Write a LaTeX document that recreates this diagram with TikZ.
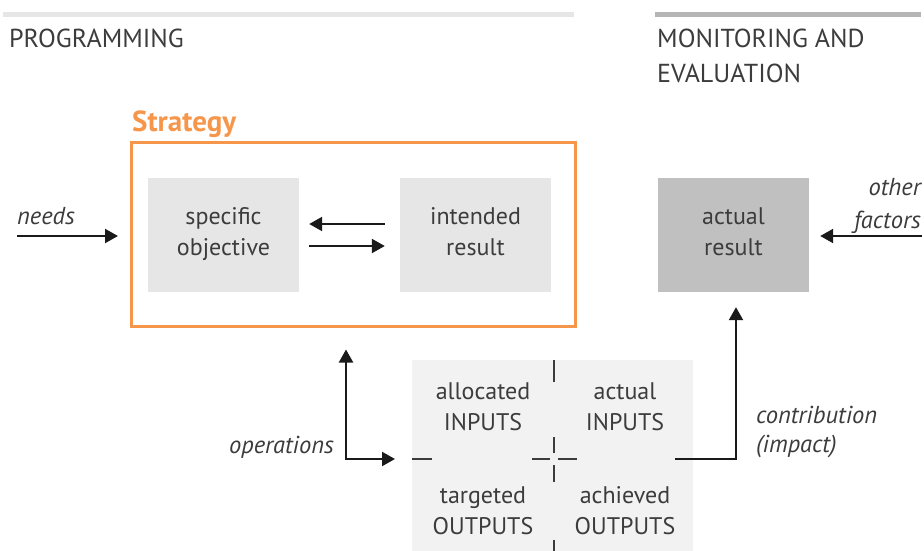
\documentclass[tikz,border=0pt]{standalone}
\usepackage{fontspec}
\setmainfont{PT Sans}
\usetikzlibrary{arrows.meta,calc}
\definecolor{orng}{HTML}{F5964B}
\definecolor{barA}{HTML}{E6E6E6}
\definecolor{barB}{HTML}{B5B5B5}
\definecolor{boxA}{HTML}{E6E6E6}
\definecolor{boxB}{HTML}{C0C0C0}
\definecolor{boxC}{HTML}{F2F2F2}
\definecolor{txt}{HTML}{3C3C3C}
\definecolor{ink}{HTML}{1A1A1A}
\newcommand\bst{\rule[-8pt]{0pt}{26pt}}
\begin{document}
\begin{tikzpicture}[x=1pt,y=-1pt,
  hdr/.style={inner sep=0pt, text=txt, font=\fontsize{26}{35}\selectfont},
  boxtxt/.style={inner sep=0pt, align=center, text=txt, font=\fontsize{24}{31}\selectfont},
  sbox/.style={boxtxt, minimum width=151pt, minimum height=114pt},
  ital/.style={inner sep=0pt, text=txt, font=\fontsize{24.5}{31}\selectfont\itshape},
  arr/.style={line width=2.2pt, draw=ink, -{Triangle[length=13pt,width=14pt]}},
  arrtwo/.style={line width=2.2pt, draw=ink, {Triangle[length=13pt,width=14pt]}-{Triangle[length=13pt,width=14pt]}},
  tick/.style={line width=2pt, draw=txt}
]
\useasboundingbox (0,0) rectangle (924,551);
% header bars
\draw[line width=5pt, barA] (3,15) -- (574,15);
\draw[line width=5pt, barB] (655,15) -- (921,15);
% headers
\node[hdr, anchor=base west] (prog) at (9,48) {PROGRAMMING};
\node[hdr, anchor=base west] (mon) at (657,48) {MONITORING AND};
\node[hdr, anchor=base west] (eval) at (657,83) {EVALUATION};
% strategy
\node[anchor=base west, inner sep=0pt, text=orng, font=\fontsize{29}{34}\selectfont\bfseries] (stratlbl) at (132,131) {Strategy};
\node[draw=orng, line width=2.5pt, minimum width=444pt, minimum height=184pt, anchor=north west, inner sep=0pt] (strat) at (130,141) {};
% boxes
\node[sbox, fill=boxA] (obj) at (223.5,235) {\bst specific\\\bst objective};
\node[sbox, fill=boxA] (res) at (475.5,235) {\bst intended\\\bst result};
\node[sbox, fill=boxB] (act) at (733.5,235) {\bst actual\\\bst result};
% bottom grid
\node[fill=boxC, minimum width=281pt, minimum height=191pt, anchor=north west, inner sep=0pt] (grid) at (412,360) {};
\node[boxtxt] (alloc) at (483,410) {\bst allocated\\\bst INPUTS};
\node[boxtxt] (actin) at (625,410) {\bst actual\\\bst INPUTS};
\node[boxtxt] (targ) at (483,514) {\bst targeted\\\bst OUTPUTS};
\node[boxtxt] (achv) at (625,514) {\bst achieved\\\bst OUTPUTS};
\draw[tick] (554,360) -- (554,382);
\draw[tick] (554,437) -- (554,453);
\draw[tick] (554,465) -- (554,482);
\draw[tick] (554,540) -- (554,551);
\draw[tick] (412,459) -- (432,459);
\draw[tick] (532,459) -- (550,459);
\draw[tick] (558,459) -- (577,459);
% labels
\node[ital, anchor=base west] (needs) at (17,224) {needs};
\node[ital, anchor=base east] (other) at (921,195) {other};
\node[ital, anchor=base east] (factors) at (921,228) {factors};
\node[ital, anchor=base east] (ops) at (334,453) {operations};
\node[ital, anchor=base west] (contrib) at (756,423) {contribution};
\node[ital, anchor=base west] (impact) at (756,452) {(impact)};
% arrows
\coordinate (needsStart) at (17,236);
\draw[arr, shorten >=12pt] (needsStart) -- (strat.west |- needsStart);
\coordinate (ofStart) at (922,236);
\draw[arr, shorten >=11pt] (ofStart) -- (act.east |- ofStart);
\draw[arr, shorten <=15pt, shorten >=10pt] ([yshift=11pt]res.west) -- ([yshift=11pt]obj.east);
\draw[arr, shorten <=10pt, shorten >=15pt] ([yshift=-11pt]obj.east) -- ([yshift=-11pt]res.west);
\coordinate (opc) at (346,459);
\draw[arrtwo, shorten <=22pt, shorten >=17pt] (strat.south -| opc) -- (opc) -- (grid.west |- opc);
\coordinate (cstart) at (675,459);
\coordinate (ccorner) at (736,459);
\draw[arr, shorten >=15pt] (cstart) -- (ccorner) -- (act.south -| ccorner);
\end{tikzpicture}
\end{document}
